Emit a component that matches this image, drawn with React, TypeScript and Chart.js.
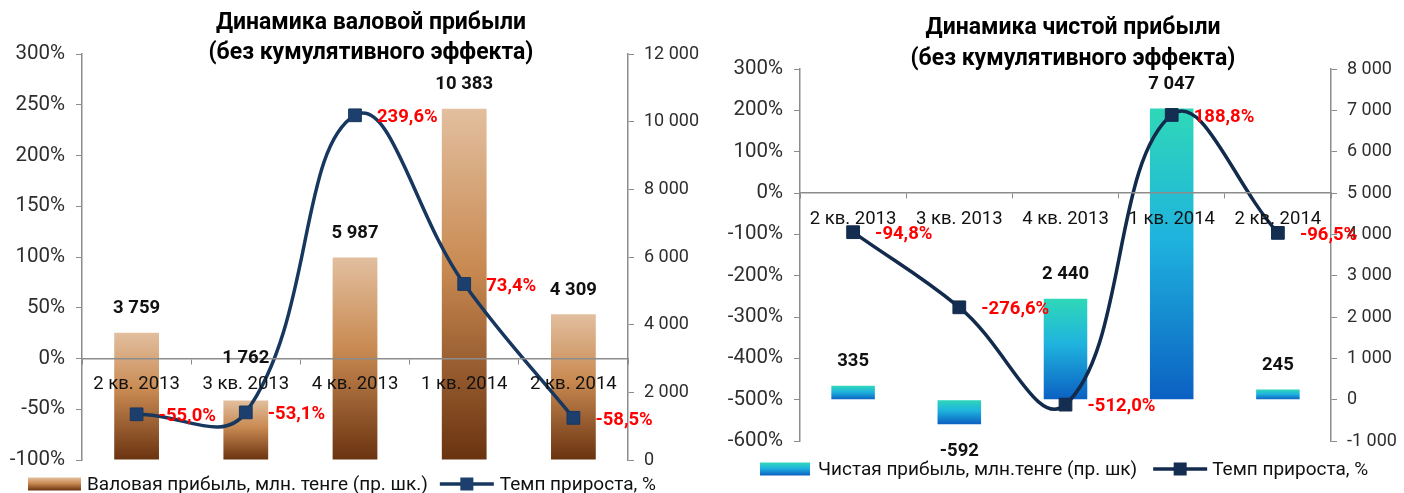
import React, { useEffect, useRef } from 'react';
import { Chart, registerables } from 'chart.js';

Chart.register(...registerables);

// ---------- data ----------
const categories = ['2 кв. 2013', '3 кв. 2013', '4 кв. 2013', '1 кв. 2014', '2 кв. 2014'];

const grossTitle = ['Динамика валовой прибыли', '(без кумулятивного эффекта)'];
const grossProfit = [3759, 1762, 5987, 10383, 4309];
const grossGrowth = [-55.0, -53.1, 239.6, 73.4, -58.5];
const grossBarLabel = 'Валовая прибыль, млн. тенге (пр. шк.)';

const netTitle = ['Динамика чистой прибыли', '(без кумулятивного эффекта)'];
const netProfit = [335, -592, 2440, 7047, 245];
const netGrowth = [-94.8, -276.6, -512.0, 188.8, -96.5];
const netBarLabel = 'Чистая прибыль, млн.тенге (пр. шк)';

const growthLabel = 'Темп прироста, %';

// ---------- helpers ----------
const FONT = 'Roboto, "Noto Sans", sans-serif';
const AXIS_GRAY = '#8c8c8c';
const TICK_COLOR = '#2e2e2e';

const fmtThousands = (v: number) => {
  const s = Math.round(Math.abs(v)).toString().replace(/\B(?=(\d{3})+(?!\d))/g, ' ');
  return (v < 0 ? '-' : '') + s;
};
const fmtPct1 = (v: number) => v.toFixed(1).replace('.', ',') + '%';

type Stops = [number, string][];
const brownStops: Stops = [
  [0, '#e2bf9f'],
  [0.45, '#c98a52'],
  [1, '#6a3310'],
];
const blueStops: Stops = [
  [0, '#2fd8b8'],
  [0.45, '#1fb3de'],
  [1, '#0b60c2'],
];

const barGradient = (stops: Stops) => (ctx: any) => {
  const chart = ctx.chart;
  const y1 = chart.scales && chart.scales.y1;
  if (ctx.type !== 'data' || !y1) return stops[1][1];
  const v = ctx.raw as number;
  const a = y1.getPixelForValue(v);
  const b = y1.getPixelForValue(0);
  if (!isFinite(a) || !isFinite(b)) return stops[1][1];
  const top = Math.min(a, b);
  const bottom = Math.max(a, b);
  const g = chart.ctx.createLinearGradient(0, top, 0, Math.max(bottom, top + 1));
  stops.forEach(([o, c]) => g.addColorStop(o, c));
  return g;
};

interface ChartCfg {
  width: number;
  height: number;
  title: string[];
  titleX: number;
  titleY: number[];
  bars: number[];
  growth: number[];
  barLabel: string;
  stops: Stops;
  lineColor: string;
  markerColor: string;
  yMin: number;
  yMax: number;
  yStep: number;
  y1Min: number;
  y1Max: number;
  y1Step: number;
  leftW: number;
  rightW: number;
  padTop: number;
  padBottom: number;
  barPct: number;
  legendX: number;
  legendY: number;
  legend: { rectW: number; rectH: number; g1: number; g2: number; lineW: number; g3: number };
  xPad: number;
}

function makePlugins(cfg: ChartCfg) {
  return [
    {
      id: 'customTitle',
      afterDraw(chart: any) {
        const c = chart.ctx;
        c.save();
        c.font = `bold 23px ${FONT}`;
        c.fillStyle = '#000';
        c.textAlign = 'center';
        c.textBaseline = 'middle';
        cfg.title.forEach((t, i) => c.fillText(t, cfg.titleX, cfg.titleY[i]));
        c.restore();
      },
    },
    {
      id: 'valueLabels',
      afterDraw(chart: any) {
        const c = chart.ctx;
        const zeroY = chart.scales.y.getPixelForValue(0);
        c.save();
        chart.data.datasets.forEach((ds: any, i: number) => {
          const meta = chart.getDatasetMeta(i);
          meta.data.forEach((el: any, j: number) => {
            const v = ds.data[j] as number;
            if (ds.type === 'bar') {
              c.font = `bold 18.5px ${FONT}`;
              c.fillStyle = '#111';
              c.textAlign = 'center';
              c.textBaseline = 'middle';
              let y = v >= 0 ? el.y - 24 : el.y + 27;
              // keep label clear of the category labels under the zero line
              if (v >= 0 && y > zeroY - 12 && y < zeroY + 45) y = zeroY;
              c.fillText(fmtThousands(v), el.x, y);
            } else {
              c.font = `bold 18.5px ${FONT}`;
              c.fillStyle = '#ff0000';
              c.textAlign = 'left';
              c.textBaseline = 'middle';
              c.fillText(fmtPct1(v), el.x + 22, el.y + 2);
            }
          });
        });
        c.restore();
      },
    },
    {
      id: 'customLegend',
      afterDraw(chart: any) {
        const c = chart.ctx;
        const L = cfg.legend;
        c.save();
        c.font = `19px ${FONT}`;
        c.textBaseline = 'middle';
        c.textAlign = 'left';
        const w1 = c.measureText(cfg.barLabel).width;
        let x = cfg.legendX;
        const y = cfg.legendY;
        const g = c.createLinearGradient(0, y - L.rectH / 2, 0, y + L.rectH / 2);
        cfg.stops.forEach(([o, col]) => g.addColorStop(o, col));
        c.fillStyle = g;
        c.fillRect(x, y - L.rectH / 2, L.rectW, L.rectH);
        x += L.rectW + L.g1;
        c.fillStyle = '#111';
        c.fillText(cfg.barLabel, x, y + 1);
        x += w1 + L.g2;
        c.strokeStyle = cfg.lineColor;
        c.lineWidth = 3.5;
        c.beginPath();
        c.moveTo(x, y);
        c.lineTo(x + L.lineW, y);
        c.stroke();
        c.fillStyle = cfg.markerColor;
        c.fillRect(x + L.lineW / 2 - 6.5, y - 6.5, 13, 13);
        x += L.lineW + L.g3;
        c.fillStyle = '#111';
        c.fillText(growthLabel, x, y + 1);
        c.restore();
      },
    },
  ];
}

function ComboChart({ cfg }: { cfg: ChartCfg }) {
  const ref = useRef<HTMLCanvasElement>(null);
  useEffect(() => {
    if (!ref.current) return;
    const chart = new Chart(ref.current, {
      data: {
        labels: categories,
        datasets: [
          {
            type: 'line' as const,
            label: growthLabel,
            data: cfg.growth,
            yAxisID: 'y',
            order: 0,
            borderColor: cfg.lineColor,
            borderWidth: 3.5,
            tension: 0.42,
            pointStyle: 'rect',
            pointRadius: 9,
            pointBackgroundColor: cfg.markerColor,
            pointBorderColor: cfg.lineColor,
            pointBorderWidth: 1,
            fill: false,
          },
          {
            type: 'bar' as const,
            label: cfg.barLabel,
            data: cfg.bars,
            yAxisID: 'y1',
            order: 1,
            backgroundColor: barGradient(cfg.stops) as any,
            borderWidth: 0,
            categoryPercentage: 1,
            barPercentage: cfg.barPct,
          },
        ],
      } as any,
      options: {
        responsive: false,
        animation: false,
        events: [],
        layout: { padding: { top: cfg.padTop, bottom: cfg.padBottom, left: 0, right: 0 } },
        plugins: {
          legend: { display: false },
          title: { display: false },
          tooltip: { enabled: false },
        },
        scales: {
          x: {
            type: 'category',
            position: { y: 0 } as any,
            offset: true,
            grid: {
              display: true,
              drawOnChartArea: false,
              drawTicks: true,
              tickLength: 5,
              color: AXIS_GRAY,
              offset: true,
              z: 1,
            },
            border: { display: true, color: AXIS_GRAY, width: 1.5, z: 1 },
            ticks: {
              font: { family: FONT, size: 18.5 },
              color: '#111',
              padding: cfg.xPad,
              maxRotation: 0,
              autoSkip: false,
              z: 1,
            },
          },
          y: {
            type: 'linear',
            position: 'left',
            min: cfg.yMin,
            max: cfg.yMax,
            grid: { display: true, drawOnChartArea: false, drawTicks: true, tickLength: 6, color: AXIS_GRAY },
            border: { display: true, color: AXIS_GRAY, width: 1.5 },
            ticks: {
              stepSize: cfg.yStep,
              font: { family: FONT, size: 20.5 },
              color: TICK_COLOR,
              padding: 11,
              callback: (v: any) => `${v}%`,
            },
            afterFit: (s: any) => {
              s.width = cfg.leftW;
            },
          },
          y1: {
            type: 'linear',
            position: 'right',
            min: cfg.y1Min,
            max: cfg.y1Max,
            grid: { display: true, drawOnChartArea: false, drawTicks: true, tickLength: 6, color: AXIS_GRAY },
            border: { display: true, color: AXIS_GRAY, width: 1.5 },
            ticks: {
              stepSize: cfg.y1Step,
              font: { family: FONT, size: 18 },
              color: TICK_COLOR,
              padding: 10,
              callback: (v: any) => fmtThousands(Number(v)),
            },
            afterFit: (s: any) => {
              s.width = cfg.rightW;
            },
          },
        },
      } as any,
      plugins: makePlugins(cfg) as any,
    });
    return () => chart.destroy();
  }, [cfg]);
  return <canvas ref={ref} width={cfg.width} height={cfg.height} style={{ display: 'block' }} />;
}

const legendLeft = { rectW: 53, rectH: 13, g1: 6, g2: 12, lineW: 54, g3: 6 };
const legendRight = { rectW: 50, rectH: 13, g1: 8, g2: 16, lineW: 54, g3: 5 };

const grossCfg: ChartCfg = {
  width: 700,
  height: 493,
  title: grossTitle,
  titleX: 371,
  titleY: [23, 53],
  bars: grossProfit,
  growth: grossGrowth,
  barLabel: grossBarLabel,
  stops: brownStops,
  lineColor: '#17375e',
  markerColor: '#1d3f6e',
  yMin: -100,
  yMax: 300,
  yStep: 50,
  y1Min: 0,
  y1Max: 12000,
  y1Step: 2000,
  leftW: 82,
  rightW: 72,
  padTop: 54,
  padBottom: 33,
  barPct: 0.41,
  legendX: 28,
  legendY: 484,
  legend: legendLeft,
  xPad: 10,
};

const netCfg: ChartCfg = {
  width: 704,
  height: 493,
  title: netTitle,
  titleX: 373,
  titleY: [28, 59],
  bars: netProfit,
  growth: netGrowth,
  barLabel: netBarLabel,
  stops: blueStops,
  lineColor: '#122a4c',
  markerColor: '#142e52',
  yMin: -600,
  yMax: 300,
  yStep: 100,
  y1Min: -1000,
  y1Max: 8000,
  y1Step: 1000,
  leftW: 100,
  rightW: 73,
  padTop: 69,
  padBottom: 52,
  barPct: 0.41,
  legendX: 60,
  legendY: 469,
  legend: legendRight,
  xPad: 10,
};

export default function App() {
  return (
    <div
      style={{
        position: 'fixed',
        left: 0,
        top: 0,
        width: 1404,
        height: 493,
        background: '#fff',
        display: 'flex',
      }}
    >
      <ComboChart cfg={grossCfg} />
      <ComboChart cfg={netCfg} />
    </div>
  );
}
